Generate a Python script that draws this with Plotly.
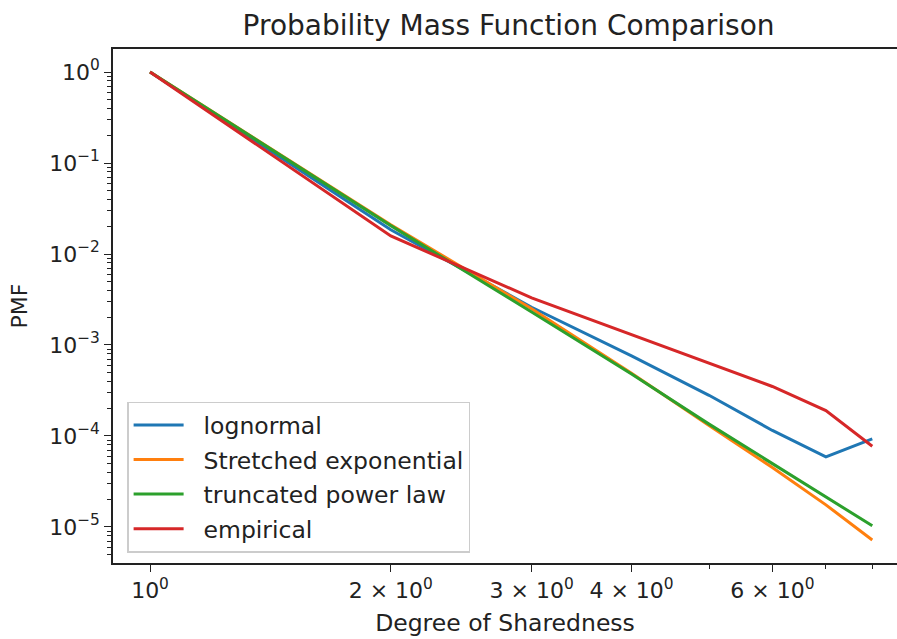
import numpy as np
import plotly.graph_objects as go

degree = [1, 2, 3, 4, 5, 6, 7, 8]
lognormal = [1.0, 0.0185, 0.0026, 7.6e-4, 2.8e-4, 1.15e-4, 5.9e-5, 9.3e-5]
stretched = [1.0, 0.021, 0.0025, 4.9e-4, 1.3e-4, 4.5e-5, 1.75e-5, 7.2e-6]
truncated = [1.0, 0.0205, 0.0023, 4.8e-4, 1.35e-4, 5.0e-5, 2.14e-5, 1.03e-5]
empirical = [1.0, 0.0158, 0.0033, 0.0013, 6.4e-4, 3.5e-4, 1.9e-4, 7.7e-5]

series = [
    ("lognormal", lognormal, "#1f77b4"),
    ("Stretched exponential", stretched, "#ff7f0e"),
    ("truncated power law", truncated, "#2ca02c"),
    ("empirical", empirical, "#d62728"),
]

x_tickvals = [1, 2, 3, 4, 6]
x_ticktext = ["10<sup>0</sup>", "2 × 10<sup>0</sup>", "3 × 10<sup>0</sup>",
              "4 × 10<sup>0</sup>", "6 × 10<sup>0</sup>"]
x_minor = [5, 7, 8, 9]
y_tickvals = [1, 1e-1, 1e-2, 1e-3, 1e-4, 1e-5]
y_ticktext = ["10<sup>0</sup>", "10<sup>−1</sup>", "10<sup>−2</sup>",
              "10<sup>−3</sup>", "10<sup>−4</sup>", "10<sup>−5</sup>"]
y_minor = [m * 10.0 ** e for e in range(-6, 1) for m in range(2, 10)]

fig = go.Figure()
for name, vals, color in series:
    fig.add_trace(go.Scatter(x=degree, y=vals, mode="lines",
                             name="\u00a0\u00a0" + name, legendgroup=name,
                             line=dict(color=color, width=3)))

font = "DejaVu Sans"
fig.update_layout(
    width=897, height=639,
    margin=dict(l=113, r=0, t=49, b=76),
    paper_bgcolor="white", plot_bgcolor="white",
    font=dict(family=font, size=22, color="#222222"),
    title=dict(text="Probability Mass Function Comparison", x=0.567, xanchor="center",
               y=0.96, yanchor="middle", font=dict(size=28, color="#222222")),
    showlegend=True,
    legend=dict(x=0.018, y=0.02, xanchor="left", yanchor="bottom",
                bgcolor="rgba(255,255,255,0.8)", bordercolor="#cccccc", borderwidth=1.5,
                font=dict(size=23.5, color="#222222"), itemwidth=50, tracegroupgap=1),
)
fig.update_xaxes(
    type="log", range=[-0.0463, 0.934],
    tickvals=x_tickvals, ticktext=x_ticktext,
    ticks="outside", ticklen=7, tickwidth=1.3, tickcolor="#222222",
    minor=dict(tickvals=x_minor, ticks="outside", ticklen=4, tickwidth=1, tickcolor="#222222"),
    showgrid=False, zeroline=False,
    showline=True, linecolor="#222222", linewidth=1.5, mirror=True,
    title=dict(text="Degree of Sharedness", standoff=12, font=dict(size=23.5)),
    tickfont=dict(size=22),
)
fig.update_yaxes(
    type="log", range=[-5.396, 0.253],
    tickvals=y_tickvals, ticktext=y_ticktext,
    ticks="outside", ticklen=7, tickwidth=1.3, tickcolor="#222222",
    minor=dict(tickvals=y_minor, ticks="outside", ticklen=4, tickwidth=1, tickcolor="#222222"),
    showgrid=False, zeroline=False,
    showline=True, linecolor="#222222", linewidth=1.5, mirror=False,
    title=dict(text="PMF", standoff=15, font=dict(size=22)),
    tickfont=dict(size=22),
)
fig.write_html("out.html")
